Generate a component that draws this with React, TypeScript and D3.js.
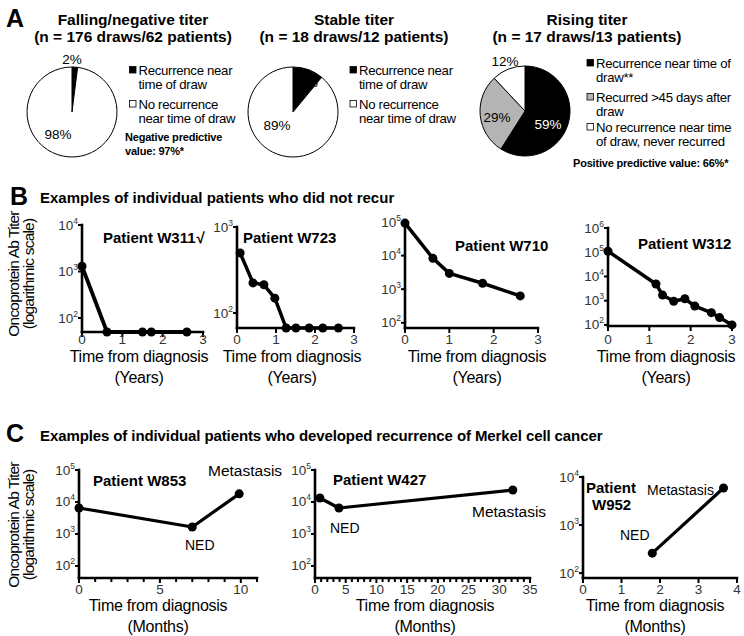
import React from "react";
import * as d3 from "d3";

const FONT = "'Liberation Sans', Arial, Helvetica, sans-serif";

// ---------- Panel A data ----------
const fallingLegend = [["Recurrence near", "time of draw"], ["No recurrence", "near time of draw"]];
const fallingValues = [2, 98];
const stableLegend = [["Recurrence near", "time of draw"], ["No recurrence", "near time of draw"]];
const stableValues = [11, 89];
const risingLegend = [
  ["Recurrence near time of", "draw**"],
  ["Recurred >45 days after", "draw"],
  ["No recurrence near time", "of draw, never recurred"],
];
const risingValues = [59, 29, 12];
const twoColors = ["#000000", "#ffffff"];
const threeColors = ["#000000", "#b4b4b4", "#ffffff"];

// ---------- Panel B data (years, titer) ----------
const w311Years = [0, 0.62, 1.5, 1.72, 2.6];
const w311Titer = [1300, 50, 50, 50, 50];
const w723Years = [0.08, 0.41, 0.69, 0.97, 1.26, 1.51, 1.85, 2.2, 2.6];
const w723Titer = [500, 224, 213, 149, 67, 67, 67, 67, 67];
const w710Years = [0, 0.63, 1.0, 1.75, 2.6];
const w710Titer = [93000, 8300, 2950, 1500, 630];
const w312Years = [0, 1.16, 1.32, 1.59, 1.86, 2.1, 2.5, 2.7, 3.0];
const w312Titer = [110000, 4900, 1700, 950, 1200, 600, 320, 200, 100];

// ---------- Panel C data (months, titer) ----------
const w853Months = [0, 7.0, 9.9];
const w853Titer = [6500, 1650, 18000];
const w427Months = [0.8, 3.9, 32.2];
const w427Titer = [13300, 6500, 23700];
const w952Months = [1.8, 3.65];
const w952Titer = [260, 5900];

const yearTicks = [0, 1, 2, 3];
const range = (n: number) => Array.from({ length: n + 1 }, (_, i) => i);

type PieCfg = {
  cx: number; cy: number; values: number[]; colors: string[];
  labels: { t: string; x: number; y: number; fill?: string }[];
  legend: string[][]; lx: number; ly: number[]; lineGap: number;
};

function Pie({ c }: { c: PieCfg }) {
  const arcs = d3.pie<number>().sort(null).value((d) => d)(c.values);
  const arc = d3.arc<d3.PieArcDatum<number>>().innerRadius(0).outerRadius(45);
  return (
    <g>
      <g transform={`translate(${c.cx},${c.cy})`}>
        {arcs.map((a, i) => (
          <path key={i} d={arc(a) || ""} fill={c.colors[i]} stroke="#000" strokeWidth={1} />
        ))}
      </g>
      {c.labels.map((l, i) => (
        <text key={i} x={l.x} y={l.y} fontSize={13.5} textAnchor="middle" fill={l.fill || "#000"}>{l.t}</text>
      ))}
      {c.legend.map((lines, i) => (
        <g key={i}>
          <rect x={c.lx} y={c.ly[i] - 8.5} width={6.5} height={6.5} fill={c.colors[i]} stroke="#000" strokeWidth={0.8} />
          {lines.map((ln, j) => (
            <text key={j} x={c.lx + 9} y={c.ly[i] + j * c.lineGap} fontSize={13.2} letterSpacing={-0.3}>{ln}</text>
          ))}
        </g>
      ))}
    </g>
  );
}

type PlotCfg = {
  xs: number[]; ys: number[];
  xDomain: [number, number]; xRange: [number, number];
  yDomain: [number, number]; yRange: [number, number];
  xTicks: number[]; xLabels: number[]; yTicks: number[];
  tickLabelY: number; lineW: number; r: number;
  titleX: number; titleY: number; unit: string;
};

function LogPlot({ c }: { c: PlotCfg }) {
  const x = d3.scaleLinear().domain(c.xDomain).range(c.xRange);
  const y = d3.scaleLog().domain(c.yDomain).range(c.yRange);
  const pts = c.xs.map((v, i) => [x(v), y(c.ys[i])] as [number, number]);
  const path = d3.line()(pts) || "";
  const x0 = c.xRange[0];
  const yb = c.yRange[0];
  return (
    <g>
      <line x1={x0} y1={yb} x2={x0} y2={c.yRange[1]} stroke="#000" strokeWidth={2.6} strokeLinecap="square" />
      <line x1={x0} y1={yb} x2={c.xRange[1]} y2={yb} stroke="#000" strokeWidth={2.6} strokeLinecap="square" />
      {c.yTicks.map((t) => (
        <g key={t}>
          <line x1={x0 - 4} x2={x0} y1={y(t)} y2={y(t)} stroke="#000" strokeWidth={2} />
          <text x={x0 - 4} y={y(t) + 4.5} textAnchor="end" fontSize={13.5} fill="#333">
            10<tspan fontSize={8.5} dy={-6}>{Math.round(Math.log10(t))}</tspan>
          </text>
        </g>
      ))}
      {c.xTicks.map((t) => (
        <line key={t} x1={x(t)} x2={x(t)} y1={yb} y2={yb + (c.xLabels.includes(t) ? 5 : 4)} stroke="#000" strokeWidth={2} />
      ))}
      {c.xLabels.map((t) => (
        <text key={t} x={x(t)} y={c.tickLabelY} textAnchor="middle" fontSize={13.5} fill="#333">{t}</text>
      ))}
      <path d={path} fill="none" stroke="#000" strokeWidth={c.lineW} strokeLinejoin="round" />
      {pts.map((p, i) => (
        <circle key={i} cx={p[0]} cy={p[1]} r={c.r} fill="#000" />
      ))}
      <text x={c.titleX} y={c.titleY} textAnchor="middle" fontSize={16} letterSpacing={-0.25}>Time from diagnosis</text>
      <text x={c.titleX} y={c.titleY + 21} textAnchor="middle" fontSize={16} letterSpacing={-0.25}>{c.unit}</text>
    </g>
  );
}

const pies: PieCfg[] = [
  {
    cx: 72, cy: 112, values: fallingValues, colors: twoColors,
    labels: [{ t: "2%", x: 72, y: 64 }, { t: "98%", x: 58, y: 139 }],
    legend: fallingLegend, lx: 129.5, ly: [75, 109], lineGap: 13.5,
  },
  {
    cx: 293, cy: 112, values: stableValues, colors: twoColors,
    labels: [{ t: "11%", x: 305, y: 87 }, { t: "89%", x: 277, y: 130 }],
    legend: stableLegend, lx: 350, ly: [75, 109], lineGap: 13.5,
  },
  {
    cx: 525, cy: 111, values: risingValues, colors: threeColors,
    labels: [{ t: "12%", x: 505, y: 66 }, { t: "29%", x: 497, y: 122 }, { t: "59%", x: 548, y: 129, fill: "#fff" }],
    legend: risingLegend, lx: 587, ly: [68, 102, 132], lineGap: 14,
  },
];

const bPlots: PlotCfg[] = [
  {
    xs: w311Years, ys: w311Titer, xDomain: [0, 3], xRange: [82, 203],
    yDomain: [50, 10000], yRange: [332, 225], xTicks: yearTicks, xLabels: yearTicks,
    yTicks: [100, 1000, 10000], tickLabelY: 344, lineW: 3.8, r: 4.5, titleX: 139, titleY: 361.5, unit: "(Years)",
  },
  {
    xs: w723Years, ys: w723Titer, xDomain: [0, 3], xRange: [237, 354],
    yDomain: [67, 1000], yRange: [328, 227], xTicks: yearTicks, xLabels: yearTicks,
    yTicks: [100, 1000], tickLabelY: 344, lineW: 3.5, r: 4.5, titleX: 292, titleY: 361.5, unit: "(Years)",
  },
  {
    xs: w710Years, ys: w710Titer, xDomain: [0, 3], xRange: [405, 538],
    yDomain: [70, 100000], yRange: [328, 222], xTicks: yearTicks, xLabels: yearTicks,
    yTicks: [100, 1000, 10000, 100000], tickLabelY: 344, lineW: 3.5, r: 4.5, titleX: 477, titleY: 361.5, unit: "(Years)",
  },
  {
    xs: w312Years, ys: w312Titer, xDomain: [0, 3], xRange: [608, 732],
    yDomain: [90, 1000000], yRange: [326, 228], xTicks: yearTicks, xLabels: yearTicks,
    yTicks: [100, 1000, 10000, 100000, 1000000], tickLabelY: 344, lineW: 3.5, r: 4.5, titleX: 666, titleY: 361.5, unit: "(Years)",
  },
];

const cPlots: PlotCfg[] = [
  {
    xs: w853Months, ys: w853Titer, xDomain: [0, 11], xRange: [79, 257],
    yDomain: [42, 100000], yRange: [578, 470], xTicks: range(11), xLabels: [0, 5, 10],
    yTicks: [100, 1000, 10000, 100000], tickLabelY: 594, lineW: 3.2, r: 4.5, titleX: 158, titleY: 611, unit: "(Months)",
  },
  {
    xs: w427Months, ys: w427Titer, xDomain: [0, 35], xRange: [315, 530],
    yDomain: [42, 100000], yRange: [578, 470], xTicks: range(35), xLabels: [0, 5, 10, 15, 20, 25, 30, 35],
    yTicks: [100, 1000, 10000, 100000], tickLabelY: 594, lineW: 3.2, r: 4.5, titleX: 425, titleY: 611, unit: "(Months)",
  },
  {
    xs: w952Months, ys: w952Titer, xDomain: [0, 4], xRange: [583, 737],
    yDomain: [79, 10000], yRange: [578, 477], xTicks: range(4), xLabels: range(4),
    yTicks: [100, 1000, 10000], tickLabelY: 594, lineW: 3.2, r: 4.5, titleX: 655, titleY: 611, unit: "(Months)",
  },
];

function YLabel({ cy }: { cy: number }) {
  return (
    <g>
      <text transform={`translate(19,${cy}) rotate(-90)`} textAnchor="middle" fontSize={15.5} letterSpacing={-0.8}>Oncoprotein Ab Titer</text>
      <text transform={`translate(34,${cy}) rotate(-90)`} textAnchor="middle" fontSize={15.5} letterSpacing={-0.8}>(logarithmic scale)</text>
    </g>
  );
}

export default function App() {
  return (
    <svg width={744} height={636} style={{ position: "absolute", left: 0, top: 0 }} fontFamily={FONT}>
      <rect width={744} height={636} fill="#fff" />
      {/* Panel A */}
      <text x={6} y={27} fontSize={25} fontWeight="bold">A</text>
      <g fontWeight="bold" fontSize={15.5} textAnchor="middle">
        <text x={133} y={25}>Falling/negative titer</text>
        <text x={133} y={42}>(n = 176 draws/62 patients)</text>
        <text x={354} y={25}>Stable titer</text>
        <text x={354} y={42}>(n = 18 draws/12 patients)</text>
        <text x={587} y={25}>Rising titer</text>
        <text x={587} y={42}>(n = 17 draws/13 patients)</text>
      </g>
      {pies.map((p, i) => <Pie key={i} c={p} />)}
      <g fontWeight="bold" fontSize={11} letterSpacing={-0.2}>
        <text x={125} y={141}>Negative predictive</text>
        <text x={125} y={155}>value: 97%*</text>
        <text x={573} y={167}>Positive predictive value: 66%*</text>
      </g>

      {/* Panel B */}
      <text x={10} y={205} fontSize={25} fontWeight="bold">B</text>
      <text x={40} y={203} fontSize={15} fontWeight="bold">Examples of individual patients who did not recur</text>
      <YLabel cy={274} />
      {bPlots.map((p, i) => <LogPlot key={i} c={p} />)}
      <g fontWeight="bold" fontSize={15}>
        <text x={103} y={243}>Patient W311<tspan dx={1}>√</tspan></text>
        <text x={243} y={243}>Patient  W723</text>
        <text x={455} y={251}>Patient W710</text>
        <text x={638} y={249}>Patient W312</text>
      </g>

      {/* Panel C */}
      <text x={6} y={442} fontSize={25} fontWeight="bold">C</text>
      <text x={40} y={441} fontSize={15} fontWeight="bold" letterSpacing={-0.1}>Examples of individual patients who developed recurrence of Merkel cell cancer</text>
      <YLabel cy={525} />
      {cPlots.map((p, i) => <LogPlot key={i} c={p} />)}
      <g fontWeight="bold" fontSize={15}>
        <text x={93} y={486}>Patient W853</text>
        <text x={333} y={485}>Patient W427</text>
        <text x={586} y={493}>Patient</text>
        <text x={592} y={510}>W952</text>
      </g>
      <g fontSize={15.5}>
        <text x={208} y={476}>Metastasis</text>
        <text x={472} y={517}>Metastasis</text>
      </g>
      <g fontSize={14}>
        <text x={647} y={495}>Metastasis</text>
        <text x={185} y={550}>NED</text>
        <text x={330} y={533}>NED</text>
        <text x={620} y={540}>NED</text>
      </g>
    </svg>
  );
}
